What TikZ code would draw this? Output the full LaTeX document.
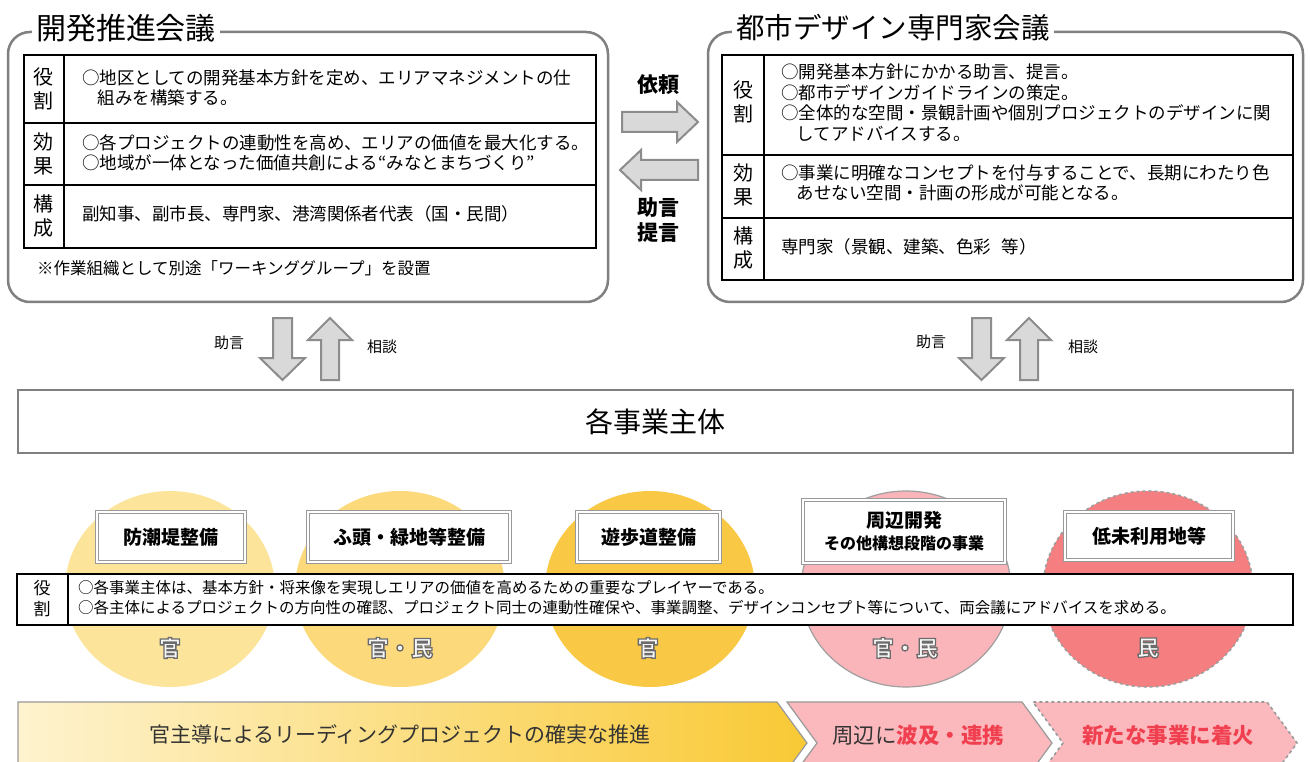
\documentclass[tikz,border=0pt]{standalone}
\usepackage{fontspec}
\newfontfamily\jp{Noto Sans CJK JP}
\usetikzlibrary{shapes.geometric}
\definecolor{cA}{HTML}{FDE49B}
\definecolor{cB}{HTML}{FCDA7B}
\definecolor{cC}{HTML}{F9C844}
\definecolor{cD}{HTML}{F9B5B9}
\definecolor{cE}{HTML}{F47E80}
\definecolor{pnl}{HTML}{808080}
\definecolor{afill}{HTML}{D9D9D9}
\definecolor{aline}{HTML}{8C8C8C}
\definecolor{chpink}{HTML}{FBB9BE}
\definecolor{redtxt}{HTML}{F0404F}
\definecolor{goldL}{HTML}{FEF3CF}
\definecolor{goldR}{HTML}{F9C935}
\newcommand{\outlined}[1]{\special{pdf:literal direct 2 Tr 1.3 w 0.42 G}#1\special{pdf:literal direct 0 Tr 0 w}}
\tikzset{
  panel/.style={draw=pnl, line width=2.5pt, rounded corners=22pt},
  tbl/.style={draw=black, line width=1.6pt},
  ptitle/.style={fill=white, inner xsep=4pt, anchor=west, font=\jp\fontsize{28.5}{30}\selectfont},
  cell/.style={anchor=west, align=left, font=\jp\fontsize{17.5}{20.5}\selectfont},
  lab/.style={align=center, font=\jp\fontsize{20}{24}\selectfont},
  blk/.style={fill=afill, draw=aline, line width=2pt, line join=miter},
  small/.style={font=\jp\fontsize{15}{18}\selectfont},
  cbox/.style={draw=gray!80, double=white, line width=0.8pt, double distance=1.6pt, fill=white, align=center, font=\jp\bfseries\fontsize{19}{22}\selectfont},
  circ/.style={ellipse, minimum width=210pt, minimum height=196pt},
  kan/.style={font=\jp\bfseries\fontsize{22}{24}\selectfont, text=white!94!gray},
  chev/.style={draw=gray!80, line width=1.2pt},
}
\begin{document}
\begin{tikzpicture}[x=1pt,y=-1pt, every node/.style={inner sep=0pt, outer sep=0pt}]
\useasboundingbox (0,0) rectangle (1310,762);
\clip (0,0) rectangle (1310,762);
\fill[white] (0,0) rectangle (1310,762);

% ---------- left panel ----------
\draw[panel] (8,32) rectangle (608,302);
\node[ptitle, font=\jp\fontsize{30}{32}\selectfont] (t1) at (32,28) {開発推進会議};
\draw[tbl] (24,55) rectangle (596,248);
\draw[tbl] (24,123) -- (596,123);
\draw[tbl] (24,185) -- (596,185);
\draw[tbl] (64,55) -- (64,248);
\node[lab] (la1) at (44,89) {役\\割};
\node[lab] (la2) at (44,154) {効\\果};
\node[lab] (la3) at (44,216) {構\\成};
\node[cell] (lc1) at (82,88) {○地区としての開発基本方針を定め、エリアマネジメントの仕\\\hspace*{0.9em}組みを構築する。};
\node[cell] (lc2) at (82,153) {○各プロジェクトの連動性を高め、エリアの価値を最大化する。\\○地域が一体となった価値共創による“みなとまちづくり”};
\node[cell] (lc3) at (82,214) {副知事、副市長、専門家、港湾関係者代表（国・民間）};
\node[anchor=west, font=\jp\fontsize{16.5}{18}\selectfont] (note) at (37,268) {※作業組織として別途「ワーキンググループ」を設置};

% ---------- right panel ----------
\draw[panel] (708,32) rectangle (1303,302);
\node[ptitle] (t2) at (732,28) {都市デザイン専門家会議};
\draw[tbl] (722,55) rectangle (1293,280);
\draw[tbl] (722,155) -- (1293,155);
\draw[tbl] (722,218) -- (1293,218);
\draw[tbl] (764,55) -- (764,280);
\node[lab] (ra1) at (743,102) {役\\割};
\node[lab] (ra2) at (743,185) {効\\果};
\node[lab] (ra3) at (743,248) {構\\成};
\node[cell] (rc1) at (781,102.5) {○開発基本方針にかかる助言、提言。\\○都市デザインガイドラインの策定。\\○全体的な空間・景観計画や個別プロジェクトのデザインに関\\\hspace*{0.9em}してアドバイスする。};
\node[cell] (rc2) at (781,183) {○事業に明確なコンセプトを付与することで、長期にわたり色\\\hspace*{0.9em}あせない空間・計画の形成が可能となる。};
\node[cell] (rc3) at (781,247) {専門家（景観、建築、色彩\hspace{0.6em}等）};

% ---------- middle arrows ----------
\node[font=\jp\bfseries\fontsize{21}{24}\selectfont] (irai) at (658,85) {依頼};
\draw[blk] (622,112) -- (677,112) -- (677,102) -- (698,122) -- (677,142) -- (677,132) -- (622,132) -- cycle;
\draw[blk] (698,160) -- (641,160) -- (641,150) -- (620,170) -- (641,190) -- (641,180) -- (698,180) -- cycle;
\node[font=\jp\bfseries\fontsize{21}{25}\selectfont, align=center] (jogen) at (658,220) {助言\\提言};

% ---------- vertical arrows ----------
\draw[blk] (273,318) -- (292,318) -- (292,358) -- (305,358) -- (282.5,380) -- (260,358) -- (273,358) -- cycle;
\draw[blk] (330,318) -- (352,340) -- (339,340) -- (339,380) -- (321,380) -- (321,340) -- (308,340) -- cycle;
\node[small] (j1) at (229,343) {助言};
\node[small] (s1) at (382,347) {相談};
\begin{scope}[xshift=699pt]
\draw[blk] (273,318) -- (292,318) -- (292,358) -- (305,358) -- (282.5,380) -- (260,358) -- (273,358) -- cycle;
\draw[blk] (330,318) -- (352,340) -- (339,340) -- (339,380) -- (321,380) -- (321,340) -- (308,340) -- cycle;
\end{scope}
\node[small] (j2) at (931,342) {助言};
\node[small] (s2) at (1083,347) {相談};

% ---------- main box ----------
\node[draw=pnl, line width=2.5pt, minimum width=1275pt, minimum height=63pt, font=\jp\fontsize{28}{30}\selectfont] (main) at (655.5,421.5) {各事業主体};

% ---------- circles ----------
\node[circ, fill=cA] (e1) at (170,589) {};
\node[circ, fill=cB] (e2) at (400,589) {};
\node[circ, fill=cC] (e3) at (650,589) {};
\node[circ, fill=cD, draw=gray!75, line width=1.2pt] (e4) at (906,589) {};
\node[circ, fill=cE, draw=gray!75, line width=1.6pt, dashed] (e5) at (1148,589) {};

\node[cbox, minimum width=148pt, minimum height=50pt] (b1) at (171,537) {防潮堤整備};
\node[cbox, minimum width=202pt, minimum height=50pt] (b2) at (409,537) {ふ頭・緑地等整備};
\node[cbox, minimum width=143pt, minimum height=50pt] (b3) at (648.5,537) {遊歩道整備};
\node[cbox, minimum width=202pt, minimum height=63pt] (b4) at (904,531.5) {周辺開発\\{\fontsize{16}{19}\selectfont その他構想段階の事業}};
\node[cbox, minimum width=168pt, minimum height=48pt] (b5) at (1149,536) {低未利用地等};

% ---------- role bar ----------
\draw[line width=1.8pt, fill=white] (17,574) rectangle (1293,625);
\draw[line width=1.8pt] (68,574) -- (68,625);
\node[align=center, font=\jp\fontsize{17}{21}\selectfont] (rl) at (42,599) {役\\割};
\node[anchor=west, align=left, font=\jp\fontsize{15.5}{20}\selectfont] (rt) at (78,598) {○各事業主体は、基本方針・将来像を実現しエリアの価値を高めるための重要なプレイヤーである。\\○各主体によるプロジェクトの方向性の確認、プロジェクト同士の連動性確保や、事業調整、デザインコンセプト等について、両会議にアドバイスを求める。};

% ---------- sector labels ----------
\node[kan] (k1) at (170,648) {\outlined{官}};
\node[kan] (k2) at (400,648) {\outlined{官・民}};
\node[kan] (k3) at (648,648) {\outlined{官}};
\node[kan] (k4) at (905,648) {\outlined{官・民}};
\node[kan] (k5) at (1148,648) {\outlined{民}};

% ---------- bottom chevrons ----------
\shade[left color=goldL, right color=goldR] (18,702) -- (777,702) -- (807,743) -- (777,784) -- (18,784) -- cycle;
\draw[chev] (18,784) -- (18,702) -- (777,702) -- (807,743) -- (777,784);
\fill[chpink] (787,702) -- (1022,702) -- (1052,743) -- (1022,784) -- (787,784) -- (817,743) -- cycle;
\draw[chev] (787,784) -- (817,743) -- (787,702) -- (1022,702) -- (1052,743) -- (1022,784);
\fill[chpink] (1033,702) -- (1267,702) -- (1297,743) -- (1267,784) -- (1033,784) -- (1063,743) -- cycle;
\draw[chev, dashed, line width=1.6pt] (1033,784) -- (1063,743) -- (1033,702) -- (1267,702) -- (1297,743) -- (1267,784);
\node[font=\jp\fontsize{21}{24}\selectfont, text=black!80] (g1) at (400,734) {官主導によるリーディングプロジェクトの確実な推進};
\node[font=\jp\fontsize{21.5}{24}\selectfont, text=black!80] (g2) at (918,735) {周辺に{\color{redtxt}\bfseries 波及・連携}};
\node[font=\jp\bfseries\fontsize{21.5}{24}\selectfont, text=redtxt] (g3) at (1168,735) {新たな事業に着火};
\end{tikzpicture}
\end{document}
